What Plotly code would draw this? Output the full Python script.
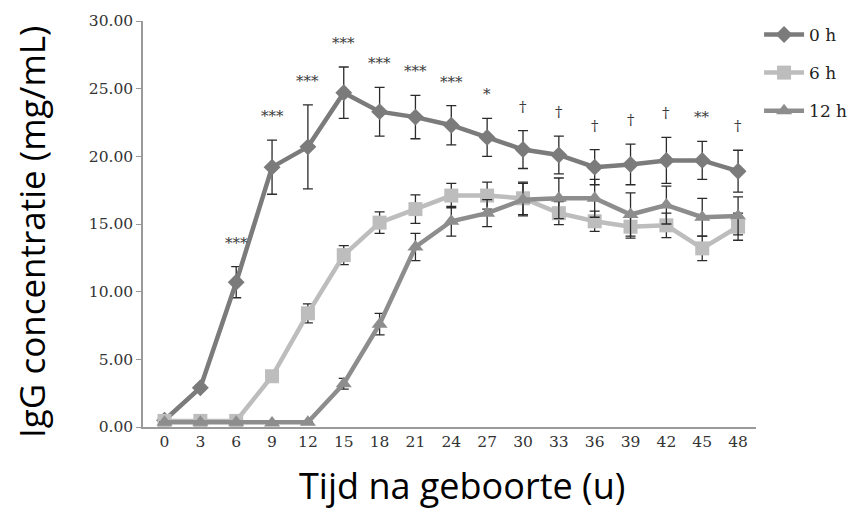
import plotly.graph_objects as go

# Sampling times after birth (hours)
hours = [0, 3, 6, 9, 12, 15, 18, 21, 24, 27, 30, 33, 36, 39, 42, 45, 48]

# Mean IgG concentration (mg/mL) and SEM per group
igg_0h = [0.5, 2.9, 10.7, 19.2, 20.7, 24.7, 23.3, 22.9, 22.3, 21.4, 20.5, 20.1, 19.2, 19.4, 19.7, 19.7, 18.9]
err_0h = [0.1, 0.2, 1.15, 2.0, 3.1, 1.9, 1.8, 1.6, 1.45, 1.4, 1.4, 1.4, 1.3, 1.5, 1.7, 1.4, 1.55]

igg_6h = [0.45, 0.45, 0.45, 3.75, 8.4, 12.7, 15.1, 16.1, 17.1, 17.1, 16.9, 15.8, 15.2, 14.8, 14.9, 13.2, 14.8]
err_6h = [0.05, 0.05, 0.05, 0.15, 0.7, 0.7, 0.8, 1.05, 0.9, 1.0, 1.2, 0.85, 0.75, 0.85, 0.9, 0.9, 1.0]

igg_12h = [0.35, 0.35, 0.35, 0.3, 0.35, 3.2, 7.6, 13.3, 15.2, 15.8, 16.8, 16.9, 16.9, 15.7, 16.4, 15.5, 15.6]
err_12h = [0.05, 0.05, 0.05, 0.05, 0.05, 0.4, 0.8, 1.0, 1.1, 1.0, 1.2, 1.5, 1.4, 1.6, 1.4, 1.4, 1.4]

# Significance marks (0 h vs later groups)
sig_labels = ["", "", "***", "***", "***", "***", "***", "***", "***", "*", "†", "†", "†", "†", "†", "**", "†"]

y_ticks = [0, 5, 10, 15, 20, 25, 30]

serif = "DejaVu Serif"
sans = "Open Sans"

series = [
    ("0 h", igg_0h, err_0h, "#7b7b7b", "diamond", 13),
    ("6 h", igg_6h, err_6h, "#bdbdbd", "square", 14),
    ("12 h", igg_12h, err_12h, "#8d8d8d", "triangle-up", 14),
]

fig = go.Figure()
for name, vals, errs, color, symbol, msize in series:
    fig.add_trace(go.Scatter(
        x=hours, y=vals, name=name, legendgroup=name, mode="lines+markers",
        line=dict(color=color, width=4.5),
        marker=dict(symbol=symbol, size=msize, color=color),
        error_y=dict(type="data", array=errs, visible=True,
                     color="#2b2b2b", thickness=1.3, width=5),
    ))

for h, v, e, lab in zip(hours, igg_0h, err_0h, sig_labels):
    if lab:
        fig.add_annotation(
            x=h, y=v + e, text=lab, showarrow=False,
            yanchor="bottom", yshift=13,
            font=dict(family=serif, size=15, color="#3a3a3a"),
        )

# Axis titles
fig.add_annotation(
    text="Tijd na geboorte (u)", xref="paper", yref="paper",
    x=0.52, y=-0.145, xanchor="center", yanchor="middle", showarrow=False,
    font=dict(family=sans, size=36, color="black"),
)
fig.add_annotation(
    text="IgG concentratie (mg/mL)", xref="paper", yref="paper",
    x=-0.183, y=0.48, xanchor="center", yanchor="middle", showarrow=False,
    textangle=-90,
    font=dict(family=sans, size=35, color="black"),
)

fig.update_layout(
    width=865, height=513,
    margin=dict(l=143, r=92, t=15, b=86),
    paper_bgcolor="white", plot_bgcolor="white",
    showlegend=True,
    legend=dict(
        x=1.005, xanchor="left", y=1.01, yanchor="top",
        font=dict(family=serif, size=17, color="#222222"),
        itemwidth=40, tracegroupgap=13,
        bgcolor="rgba(0,0,0,0)",
    ),
    xaxis=dict(
        range=[-1.8, 49.5], tickmode="array", tickvals=hours,
        ticktext=[str(h) for h in hours],
        showline=True, linecolor="#9a9a9a", linewidth=1.5,
        showgrid=False, zeroline=False, ticks="",
        tickfont=dict(family=serif, size=15.5, color="#333333"),
    ),
    yaxis=dict(
        range=[0, 30], tickmode="array", tickvals=y_ticks,
        ticktext=[f"{t:.2f}" for t in y_ticks],
        showline=True, linecolor="#9a9a9a", linewidth=1.5,
        showgrid=False, zeroline=False,
        ticks="outside", ticklen=5, tickcolor="#9a9a9a",
        tickfont=dict(family=serif, size=15.5, color="#333333"),
    ),
)

fig.write_html("out.html")
